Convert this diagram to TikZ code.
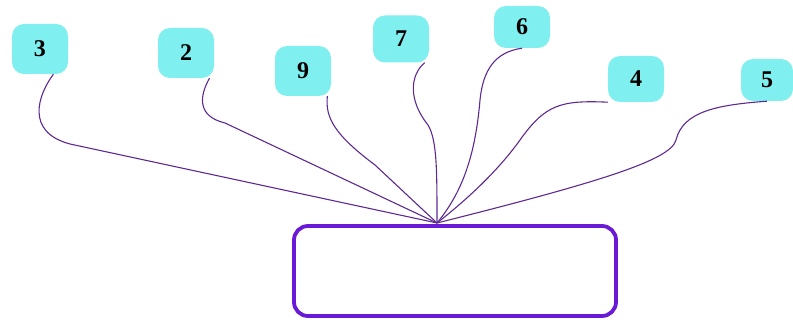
\documentclass[tikz,border=0pt]{standalone}
\usepackage{fontspec}
\setmainfont{Liberation Serif}
\usetikzlibrary{calc,positioning}
\definecolor{numfill}{HTML}{80EFEF}
\definecolor{wireline}{HTML}{5E2A92}
\definecolor{boxline}{HTML}{6A1AD6}
\begin{document}
\begin{tikzpicture}[x=1pt,y=-1pt,
          numbox/.style={rounded corners=12pt, fill=numfill, minimum width=56pt, minimum height=50pt, inner sep=2pt, font=\fontsize{24}{28}\selectfont\bfseries},
          wire/.style={line width=1.1pt, color=wireline},
          target/.style={rounded corners=14pt, draw=boxline, line width=3.8pt, minimum width=322pt, minimum height=90pt}
        ]
          \useasboundingbox (0,0) rectangle (793,320);
          \node[numbox] (n3) at (40,49) {3};
          \node[numbox] (n2) at (186,53) {2};
          \node[numbox] (n9) at (303,71) {9};
          \node[numbox, minimum height=47pt] (n7) at (401,39) {7};
          \node[numbox, minimum height=42pt] (n6) at (522,27) {6};
          \node[numbox, minimum height=46pt] (n4) at (636,79) {4};
          \node[numbox, minimum width=52pt, minimum height=42pt] (n5) at (767,80) {5};
          \node[target] (goal) at (455,271) {};
          \coordinate (hub) at (437,223);
          \draw[wire] (n3.-62) .. controls (38,95) and (25,132) .. (70,144) -- (hub);
          \draw[wire] (n2.-47) .. controls (200,95) and (196,116) .. (225,123) -- (hub);
          \draw[wire] (n9.-46) .. controls (325,118) and (335,135) .. (375,165) -- (hub);
          \draw[wire] (n7.-45) .. controls (410,75) and (408,100) .. (428,125) .. controls (437,140) and (437,170) .. (hub);
          \draw[wire] (n6.south) .. controls (495,52) and (483,70) .. (480,100) .. controls (475,160) and (460,195) .. (hub);
          \draw[wire] (n4.south west) .. controls (560,100) and (545,105) .. (520,140) .. controls (495,175) and (460,205) .. (hub);
          \draw[wire] (n5.south) .. controls (715,105) and (683,112) .. (676,140) .. controls (671,160) and (600,182) .. (hub);
        \end{tikzpicture}
\end{document}
